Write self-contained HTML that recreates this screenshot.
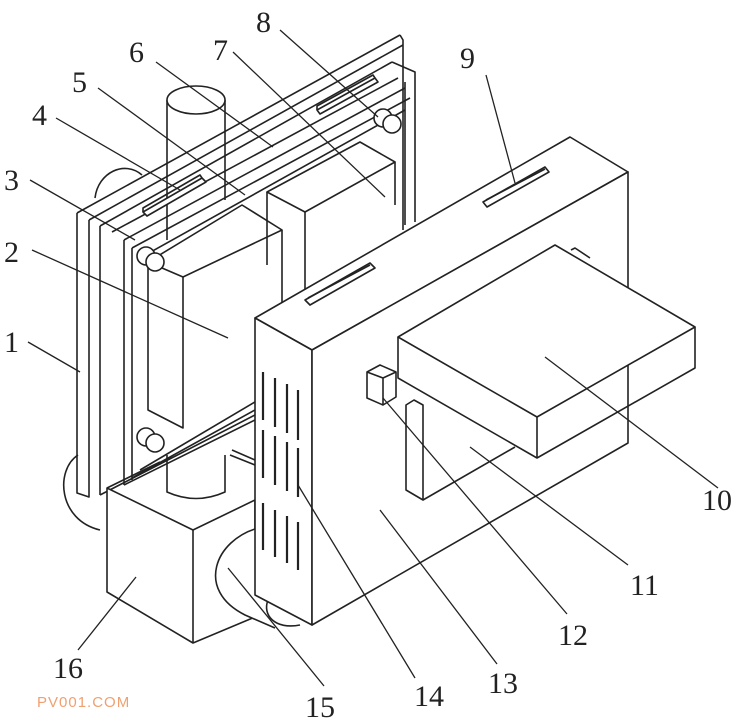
<!DOCTYPE html>
<html><head><meta charset="utf-8"><style>
html,body{margin:0;padding:0;background:#fff;}
svg{display:block;}
text{font-family:"Liberation Serif",serif;font-size:30px;fill:#222;}
</style></head><body>
<svg width="750" height="727" viewBox="0 0 750 727" xmlns="http://www.w3.org/2000/svg">
<g fill="none" stroke="#222" stroke-width="1.6" stroke-linejoin="round">
<!-- left pipe behind -->
<path d="M78,455 C55,470 58,520 100,530" fill="#fff"/>
<!-- vertical cylinder -->
<path d="M167,100 L167,240 M225,100 L225,200"/>
<ellipse cx="196" cy="100" rx="29" ry="14" fill="#fff"/>
<path d="M167,455 L167,492 Q196,505 225,492 L225,455"/>
<!-- wheel behind left -->
<path d="M95,198 C98,172 125,160 142,175"/>
<!-- frame back plate -->
<path d="M400,35 L403,40 L403,230"/>
<path d="M392,62 L415,72 L415,222"/>
<path d="M405,82 L405,225"/>
<!-- frame diagonals -->
<path d="M77,213 L400,35"/>
<path d="M89,220 L403,45"/>
<path d="M100,226 L392,62"/>
<path d="M112,232 L398,78"/>
<path d="M124,240 L405,88"/>
<path d="M132,248 L410,98"/>
<path d="M140,258 L405,110"/>
<!-- slots on frame top -->
<path d="M143,212 L202,178 L206,182 L147,216 Z" fill="#fff"/>
<path d="M143,212 L143,208 L200,175 L202,178"/>
<path d="M317,110 L375,78 L378,82 L320,114 Z" fill="#fff"/>
<path d="M317,110 L317,106 L373,75 L375,78"/>
<!-- frame verticals -->
<path d="M77,213 L77,493 L89,497 L89,220"/>
<path d="M100,226 L100,495"/>
<path d="M124,240 L124,485"/>
<path d="M132,248 L132,480"/>
<path d="M100,495 L255,415 M124,485 L255,420 M132,478 L255,410 M140,470 L255,402"/>
<path d="M230,455 L255,465 M232,450 L255,460"/>
<!-- block 2 -->
<path d="M148,262 L242,205 L282,230 L183,277 L148,262 Z" fill="#fff"/>
<path d="M183,277 L183,428 L148,410 L148,262"/>
<path d="M282,230 L282,390"/>
<!-- block 7 -->
<path d="M267,192 L360,142 L395,162 L305,212 Z" fill="#fff"/>
<path d="M267,192 L267,265 M305,212 L305,290 M395,162 L395,205"/>
<!-- bolts -->
<g fill="#fff">
<circle cx="146" cy="256" r="9"/><circle cx="155" cy="262" r="9"/>
<circle cx="146" cy="437" r="9"/><circle cx="155" cy="443" r="9"/>
<circle cx="383" cy="118" r="9"/><circle cx="392" cy="124" r="9"/>
</g>
<!-- base box 16 -->
<path d="M107,488 L193,530 L255,500 L255,617 L193,643 L107,592 Z" fill="#fff"/>
<path d="M193,530 L193,643"/>
<path d="M107,488 L160,462"/>
<!-- pipe 15 -->
<path d="M258,528 C215,540 195,590 245,615 L275,628" fill="#fff"/>
<path d="M268,600 C262,615 275,630 300,625"/>
<!-- big box 13/14 -->
<path d="M255,318 L570,137 L628,172 L312,350 Z" fill="#fff"/>
<path d="M255,318 L312,350 L312,625 L255,595 Z" fill="#fff"/>
<path d="M312,350 L628,172 L628,443 L312,625 Z" fill="#fff"/>
<!-- top slots -->
<path d="M305,300 L370,263 L375,268 L310,305 Z"/>
<path d="M308,298 L370,265"/>
<path d="M483,202 L545,167 L549,172 L487,207 Z"/>
<path d="M486,200 L545,169"/>
<!-- vents -->
<g stroke-width="2.2">
<path d="M263,372 L263,420 M275,378 L275,427 M287,384 L287,433 M298,390 L298,440"/>
<path d="M263,430 L263,478 M275,436 L275,485 M287,442 L287,491 M298,448 L298,497"/>
<path d="M263,503 L263,550 M275,510 L275,557 M287,516 L287,563 M298,522 L298,570"/>
</g>
<!-- plate 11 & post -->
<path d="M406,405 L414,400 L423,405 L423,500 L406,490 Z" fill="#fff"/>
<path d="M423,500 L515,447"/>
<!-- plate 10 -->
<path d="M398,337 L555,245 L695,327 L537,417 Z" fill="#fff"/>
<path d="M398,337 L398,378 L537,458 L695,368 L695,327"/>
<path d="M537,417 L537,458" />
<path d="M571,250 L575,248 L590,258"/>
<!-- cube 12 -->
<path d="M367,372 L380,365 L396,372 L396,397 L383,405 L367,398 Z" fill="#fff"/>
<path d="M367,372 L383,378 L396,372 M383,378 L383,405"/>
</g>
<!-- leader lines -->
<g stroke="#222" stroke-width="1.3" fill="none">
<path d="M28,342 L80,372"/>
<path d="M32,250 L228,338"/>
<path d="M30,180 L135,240"/>
<path d="M56,118 L180,190"/>
<path d="M98,88 L245,195"/>
<path d="M156,62 L273,147"/>
<path d="M233,52 L385,197"/>
<path d="M280,30 L378,117"/>
<path d="M486,75 L515,183"/>
<path d="M718,488 L545,357"/>
<path d="M628,565 L470,447"/>
<path d="M567,614 L383,398"/>
<path d="M497,664 L380,510"/>
<path d="M415,678 L298,485"/>
<path d="M324,686 L228,568"/>
<path d="M78,650 L136,577"/>
</g>
<text x="4" y="352">1</text>
<text x="4" y="262">2</text>
<text x="4" y="190">3</text>
<text x="32" y="125">4</text>
<text x="72" y="92">5</text>
<text x="129" y="62">6</text>
<text x="213" y="60">7</text>
<text x="256" y="32">8</text>
<text x="460" y="68">9</text>
<text x="702" y="510">10</text>
<text x="630" y="595">11</text>
<text x="558" y="645">12</text>
<text x="488" y="693">13</text>
<text x="414" y="706">14</text>
<text x="305" y="717">15</text>
<text x="53" y="678">16</text>
<text x="37" y="707" style="font-family:'Liberation Sans',sans-serif;font-size:15px;fill:#f0a070;letter-spacing:1px">PV001.COM</text>
</svg>
</body></html>
